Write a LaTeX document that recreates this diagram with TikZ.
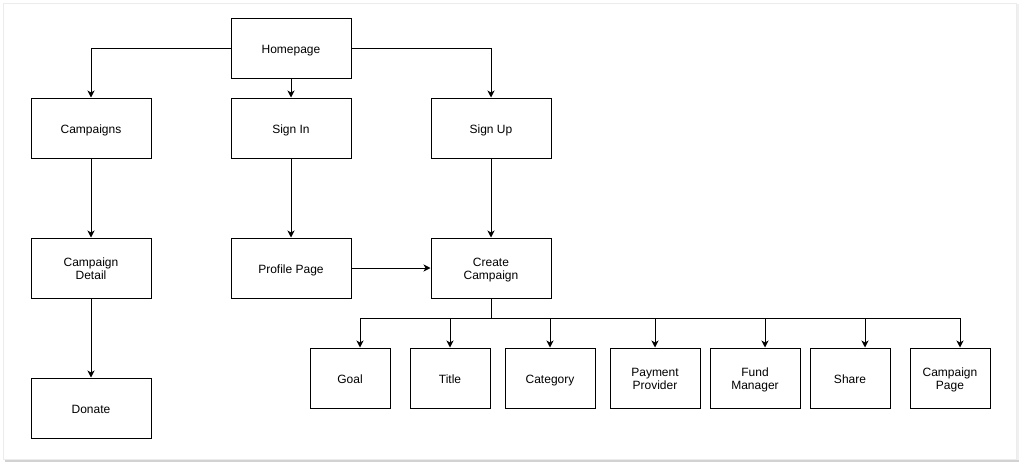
\documentclass[tikz,border=0pt]{standalone}
\usepackage{fontspec}
\setmainfont{Liberation Sans}
\usetikzlibrary{arrows.meta}
\begin{document}
\begin{tikzpicture}[x=1pt,y=-1pt,
  box/.style={draw=black,line width=1pt,fill=white,minimum width=120pt,minimum height=60pt,inner sep=0pt,align=center,font=\fontsize{12pt}{13.5pt}\selectfont,text height=10pt,text depth=0pt},
  twoline/.style={text height=23.5pt,text depth=0pt},
  sbox/.style={box,minimum width=80pt},
  mbox/.style={box,minimum width=90pt},
  conn/.style={draw=black,line width=1pt,-{Stealth[length=7pt,width=7pt,inset=2pt]}}]
\useasboundingbox (0,0) rectangle (1021,466);
% page frame with shadow
\fill[gray!35] (5,6) rectangle (1019,462);
\fill[gray!12] (4,4) rectangle (1019,460);
\fill[white] (3,3) rectangle (1016,459);
\draw[gray!15,line width=0.6pt] (3,3) rectangle (1016,459);
% nodes
\node[box] (home) at (291,48) {Homepage};
\node[box] (camps) at (91,128) {Campaigns};
\node[box] (signin) at (291,128) {Sign In};
\node[box] (signup) at (491,128) {Sign Up};
\node[box,twoline] (detail) at (91,268) {Campaign\\Detail};
\node[box] (profile) at (291,268) {Profile Page};
\node[box,twoline] (create) at (491,268) {Create\\Campaign};
\node[box] (donate) at (91,408) {Donate};
\node[sbox] (goal) at (350,378) {Goal};
\node[sbox] (title) at (450,378) {Title};
\node[mbox] (cat) at (550,378) {Category};
\node[mbox,twoline] (pay) at (655,378) {Payment\\Provider};
\node[mbox,twoline] (fund) at (755,378) {Fund\\Manager};
\node[sbox] (share) at (850,378) {Share};
\node[sbox,twoline] (cpage) at (950,378) {Campaign\\Page};
% connectors
\draw[conn] (home.west) -| (camps.north);
\draw[conn] (home.south) -- (signin.north);
\draw[conn] (home.east) -| (signup.north);
\draw[conn] (camps.south) -- (detail.north);
\draw[conn] (detail.south) -- (donate.north);
\draw[conn] (signin.south) -- (profile.north);
\draw[conn] (signup.south) -- (create.north);
\draw[conn] (profile.east) -- (create.west);
\coordinate (bus) at (491,318);
\draw[line width=1pt] (create.south) -- (bus);
\draw[conn] (bus) -| ([xshift=10pt]goal.north);
\draw[conn] (bus) -| (title.north);
\draw[conn] (bus) -| (cat.north);
\draw[conn] (bus) -| (pay.north);
\draw[conn] (bus) -| ([xshift=10pt]fund.north);
\draw[conn] (bus) -| ([xshift=15pt]share.north);
\draw[conn] (bus) -| ([xshift=10pt]cpage.north);
\end{tikzpicture}
\end{document}
